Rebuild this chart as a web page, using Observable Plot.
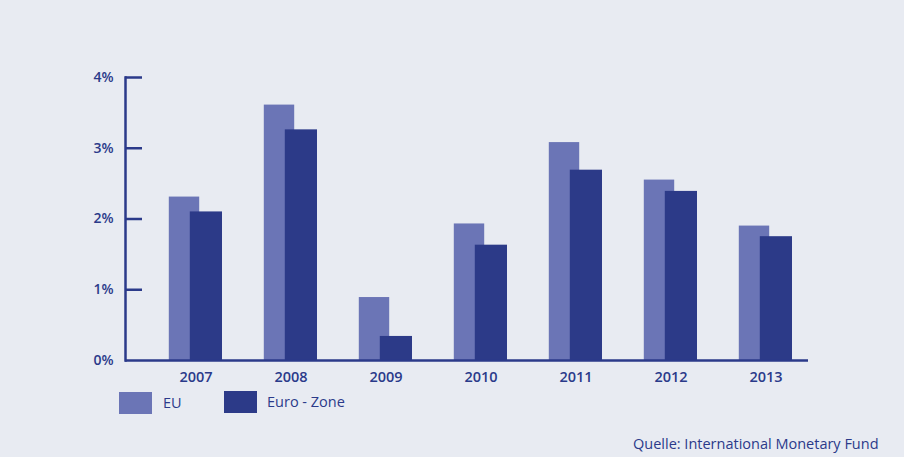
<!DOCTYPE html>
<html>
<head>
<meta charset="utf-8">
<script src="https://cdn.jsdelivr.net/npm/d3@7"></script>
<script src="https://cdn.jsdelivr.net/npm/@observablehq/plot@0.6"></script>
<style>
  html, body { margin: 0; padding: 0; background: #e8ebf2; }
  #wrap { position: relative; width: 904px; height: 457px; overflow: hidden; font-family: "Open Sans", sans-serif; color: #2b3a8a; }
  .sw { position: absolute; width: 33px; height: 22px; }
  .lt { position: absolute; font-size: 14.5px; line-height: 22px; }
  #src { position: absolute; left: 633px; top: 433px; font-size: 14.5px; line-height: 22px; }
</style>
</head>
<body>
<div id="wrap">
  <div id="chart"></div>
  <div class="sw" style="left:119px;top:392px;background:#6b75b6"></div>
  <div class="lt" style="left:163px;top:392px">EU</div>
  <div class="sw" style="left:224px;top:391px;background:#2c3a88"></div>
  <div class="lt" style="left:267px;top:391px">Euro - Zone</div>
  <div id="src">Quelle: International Monetary Fund</div>
</div>
<script>
const years = ["2007", "2008", "2009", "2010", "2011", "2012", "2013"];
const eu = [2.31, 3.61, 0.89, 1.93, 3.08, 2.55, 1.90];
const euro = [2.10, 3.26, 0.34, 1.63, 2.69, 2.39, 1.75];
const yTicks = [0, 1, 2, 3, 4];

const navy = "#2b3a8a";
const euColor = "#6b75b6";
const euroColor = "#2c3a88";

const euData = years.map((y, i) => ({year: y, value: eu[i]}));
const euroData = years.map((y, i) => ({year: y, value: euro[i]}));

const chart = Plot.plot({
  width: 904,
  height: 392,
  marginLeft: 125,
  marginRight: 96,
  marginTop: 77,
  marginBottom: 32,
  style: {background: "transparent", fontFamily: "Open Sans, sans-serif", color: navy},
  x: {type: "band", domain: years, range: [146, 815], padding: 0, label: null},
  y: {domain: [0, 4], range: [360, 77], label: null},
  marks: [
    Plot.barY(euData, {x: "year", y: "value", fill: euColor, insetLeft: 20.8, insetRight: 43.8}),
    Plot.barY(euroData, {x: "year", y: "value", fill: euroColor, insetLeft: 41.8, insetRight: 21}),
    Plot.tickY(yTicks.slice(1), {y: d => d, stroke: navy, strokeWidth: 2.5, insetRight: 666}),
    Plot.frame({anchor: "left", stroke: navy, strokeWidth: 2.5}),
    Plot.ruleY([0], {stroke: navy, strokeWidth: 2.5}),
    Plot.axisY(yTicks, {tickSize: 0, tickPadding: 12, fontSize: 14, fontWeight: 600, fill: navy, label: null, tickFormat: d => d + "%"}),
    Plot.axisX({tickSize: 0, tickPadding: 11, fontSize: 14.5, fontWeight: 600, fill: navy, label: null})
  ]
});
document.getElementById("chart").appendChild(chart);
</script>
</body>
</html>
